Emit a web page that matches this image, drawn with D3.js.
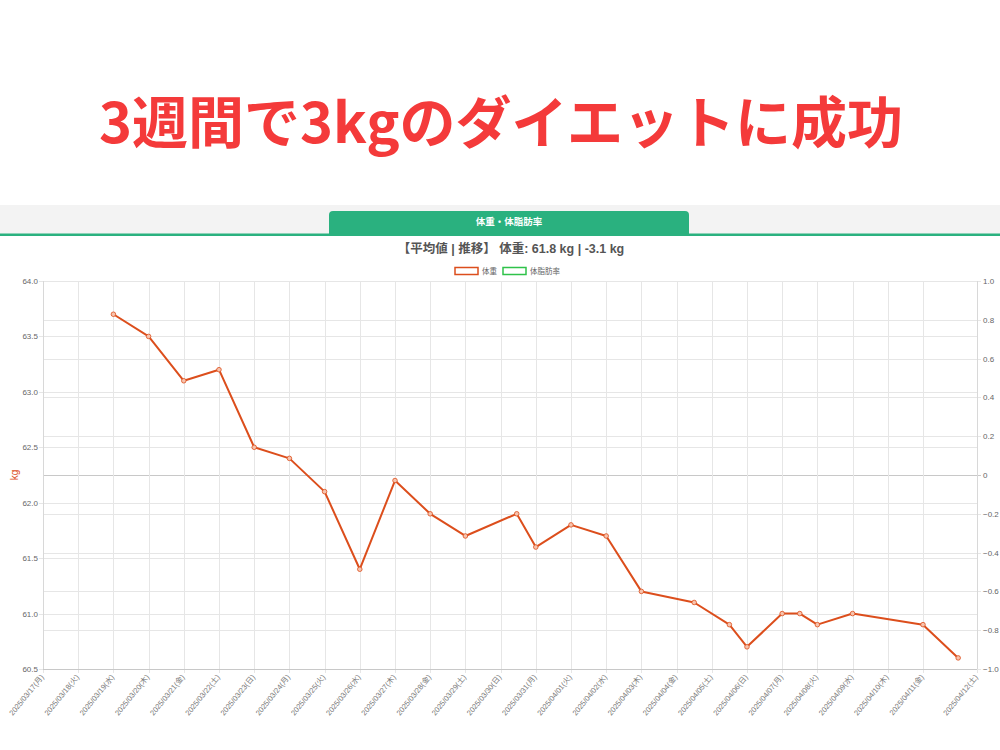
<!DOCTYPE html>
<html><head><meta charset="utf-8">
<script src="https://cdn.jsdelivr.net/npm/d3@7"></script>
<style>
html,body{margin:0;padding:0;background:#fff;}
svg{display:block;font-family:"Liberation Sans","Noto Sans CJK JP",sans-serif;}
</style></head>
<body>
<svg id="c" width="1000" height="750"></svg>
<script>
// ---- data ----
const titleText = "3週間で3kgのダイエットに成功";
const tabText = "体重・体脂肪率";
const subtitleText = "【平均値 | 推移】 体重: 61.8 kg | -3.1 kg";
const seriesNames = ["体重", "体脂肪率"];
const seriesColors = ["#dc4e1c", "#2fc24a"];
const yLeftLabel = "kg";

const xTickLabels = [
  "2025/03/17(月)","2025/03/18(火)","2025/03/19(水)","2025/03/20(木)","2025/03/21(金)",
  "2025/03/22(土)","2025/03/23(日)","2025/03/24(月)","2025/03/25(火)","2025/03/26(水)",
  "2025/03/27(木)","2025/03/28(金)","2025/03/29(土)","2025/03/30(日)","2025/03/31(月)",
  "2025/04/01(火)","2025/04/02(水)","2025/04/03(木)","2025/04/04(金)","2025/04/05(土)",
  "2025/04/06(日)","2025/04/07(月)","2025/04/08(火)","2025/04/09(水)","2025/04/10(木)",
  "2025/04/11(金)","2025/04/12(土)"
];
const xMin = "2025-03-17T00:00";
const xMax = "2025-04-12T12:50";

const weightTimes = [
  "2025-03-19T00:00","2025-03-20T00:00","2025-03-21T00:00","2025-03-22T00:00","2025-03-23T00:00",
  "2025-03-24T00:00","2025-03-25T00:00","2025-03-26T00:00","2025-03-27T00:00","2025-03-28T00:00",
  "2025-03-29T00:00","2025-03-30T11:00","2025-03-31T00:00","2025-04-01T00:00","2025-04-02T00:00",
  "2025-04-03T00:00","2025-04-04T12:00","2025-04-05T12:00","2025-04-06T00:00","2025-04-07T00:00",
  "2025-04-07T12:00","2025-04-08T00:00","2025-04-09T00:00","2025-04-11T00:00","2025-04-12T00:00"
];
const weightValues = [
  63.7,63.5,63.1,63.2,62.5,62.4,62.1,61.4,62.2,61.9,61.7,61.9,61.6,61.8,61.7,
  61.2,61.1,60.9,60.7,61.0,61.0,60.9,61.0,60.9,60.6
];
const bodyFatValues = [];

const yLeftTicks = [60.5,61.0,61.5,62.0,62.5,63.0,63.5,64.0];
const yRightTicks = [-1.0,-0.8,-0.6,-0.4,-0.2,0,0.2,0.4,0.6,0.8,1.0];

// ---- drawing ----
const svg = d3.select("#c");
const W = 1000;
const green = "#2ab17f";
const parse = d3.timeParse("%Y-%m-%dT%H:%M");
const parseLabel = d3.timeParse("%Y/%m/%d");

svg.append("rect").attr("width",1000).attr("height",750).attr("fill","#fff");

// title
svg.append("text").attr("x",501).attr("y",143).attr("text-anchor","middle")
  .attr("font-family","'Noto Sans CJK JP',sans-serif")
  .attr("font-size",56).attr("font-weight",700).attr("fill","#f43a3a")
  .text(titleText);

// tab band
svg.append("rect").attr("x",0).attr("y",205).attr("width",W).attr("height",29).attr("fill","#f3f3f3");
const tx0=329, tx1=689, ty0=211, ty1=234, r=4;
svg.append("path").attr("fill",green)
  .attr("d",`M${tx0},${ty1}V${ty0+r}Q${tx0},${ty0} ${tx0+r},${ty0}H${tx1-r}Q${tx1},${ty0} ${tx1},${ty0+r}V${ty1}Z`);
svg.append("rect").attr("x",0).attr("y",233.5).attr("width",W).attr("height",2.5).attr("fill",green);
svg.append("text").attr("x",509).attr("y",222).attr("dy","0.35em").attr("text-anchor","middle")
  .attr("font-size",9.5).attr("font-weight",700).attr("fill","#fff").text(tabText);

// subtitle
svg.append("text").attr("x",511).attr("y",249).attr("dy","0.35em").attr("text-anchor","middle")
  .attr("font-size",12.5).attr("font-weight",700).attr("fill","#555").text(subtitleText);

// legend
const legX = [454, 502];
seriesNames.forEach((n,i)=>{
  svg.append("rect").attr("x",legX[i]+1).attr("y",267.5).attr("width",23).attr("height",7)
    .attr("fill","#fff").attr("stroke",seriesColors[i]).attr("stroke-width",1.5);
  svg.append("text").attr("x",legX[i]+28).attr("y",271).attr("dy","0.35em")
    .attr("font-size",7.5).attr("fill","#666").text(n);
});

// plot area
const L=43, R=977, T=281, B=669;
const x = d3.scaleTime().domain([parse(xMin), parse(xMax)]).range([L,R]);
const yL = d3.scaleLinear().domain([60.5,64.0]).range([B,T]);
const yR = d3.scaleLinear().domain([-1,1]).range([B,T]);

const g = svg.append("g");
// horizontal grid: left ticks
g.selectAll(".hl").data(yLeftTicks).join("line")
  .attr("x1",L-4).attr("x2",R).attr("y1",d=>Math.round(yL(d))+0.5).attr("y2",d=>Math.round(yL(d))+0.5)
  .attr("stroke","#e6e6e6").attr("stroke-width",1);
// horizontal grid: right ticks
g.selectAll(".hr").data(yRightTicks).join("line")
  .attr("x1",L).attr("x2",R+4).attr("y1",d=>Math.round(yR(d))+0.5).attr("y2",d=>Math.round(yR(d))+0.5)
  .attr("stroke",d=>d===0?"#c8c8c8":"#e6e6e6").attr("stroke-width",1);

// vertical grid
const tickDates = xTickLabels.map((s,i)=> i===xTickLabels.length-1 ? parse(xMax) : parseLabel(s.slice(0,10)));
g.selectAll(".v").data(tickDates).join("line")
  .attr("x1",d=>Math.round(x(d))+0.5).attr("x2",d=>Math.round(x(d))+0.5)
  .attr("y1",T).attr("y2",B+4)
  .attr("stroke","#e6e6e6").attr("stroke-width",1);

// axis borders
g.append("line").attr("x1",L+0.5).attr("x2",L+0.5).attr("y1",T).attr("y2",B).attr("stroke","#d8d8d8");
g.append("line").attr("x1",R+0.5).attr("x2",R+0.5).attr("y1",T).attr("y2",B).attr("stroke","#d8d8d8");
g.append("line").attr("x1",L).attr("x2",R).attr("y1",B+0.5).attr("y2",B+0.5).attr("stroke","#c8c8c8");

// left axis labels
const axL = svg.append("g").attr("transform",`translate(${L-5},0)`)
  .call(d3.axisLeft(yL).tickValues(yLeftTicks).tickFormat(d3.format(".1f")).tickSize(0).tickPadding(0));
axL.select(".domain").remove();
axL.selectAll("text").attr("font-size",8).attr("fill","#666").attr("font-family","'Liberation Sans',sans-serif");

// right axis labels
const axR = svg.append("g").attr("transform",`translate(${R+6},0)`)
  .call(d3.axisRight(yR).tickValues(yRightTicks).tickFormat(d=> d===0?"0":d3.format(".1f")(d)).tickSize(0).tickPadding(0));
axR.select(".domain").remove();
axR.selectAll("text").attr("font-size",8).attr("fill","#666").attr("font-family","'Liberation Sans',sans-serif");

// x axis labels
const axX = svg.append("g").attr("transform",`translate(0,${B+5})`)
  .call(d3.axisBottom(x).tickValues(tickDates).tickFormat((d,i)=>xTickLabels[i]).tickSize(0).tickPadding(0));
axX.select(".domain").remove();
axX.selectAll("text").attr("font-size",7.5).attr("fill","#777")
  .attr("font-family","'Liberation Sans','Noto Sans CJK JP',sans-serif")
  .attr("text-anchor","end").attr("dy","0.35em")
  .attr("transform","rotate(-51)").attr("x",-2).attr("y",0);

// y label
svg.append("text").attr("transform","translate(14,475) rotate(-90)").attr("text-anchor","middle")
  .attr("dy","0.35em").attr("font-size",10).attr("fill",seriesColors[0]).text(yLeftLabel);

// line
const pts = weightTimes.map((t,i)=>({t:parse(t), v:weightValues[i]}));
svg.append("path").datum(pts)
  .attr("fill","none").attr("stroke",seriesColors[0]).attr("stroke-width",2)
  .attr("stroke-linejoin","round")
  .attr("d", d3.line().x(d=>x(d.t)).y(d=>yL(d.v)));
svg.selectAll(".pt").data(pts).join("circle")
  .attr("cx",d=>x(d.t)).attr("cy",d=>yL(d.v)).attr("r",2.3)
  .attr("fill","#f7c3ad").attr("stroke",seriesColors[0]).attr("stroke-width",0.8);
</script>
</body></html>
